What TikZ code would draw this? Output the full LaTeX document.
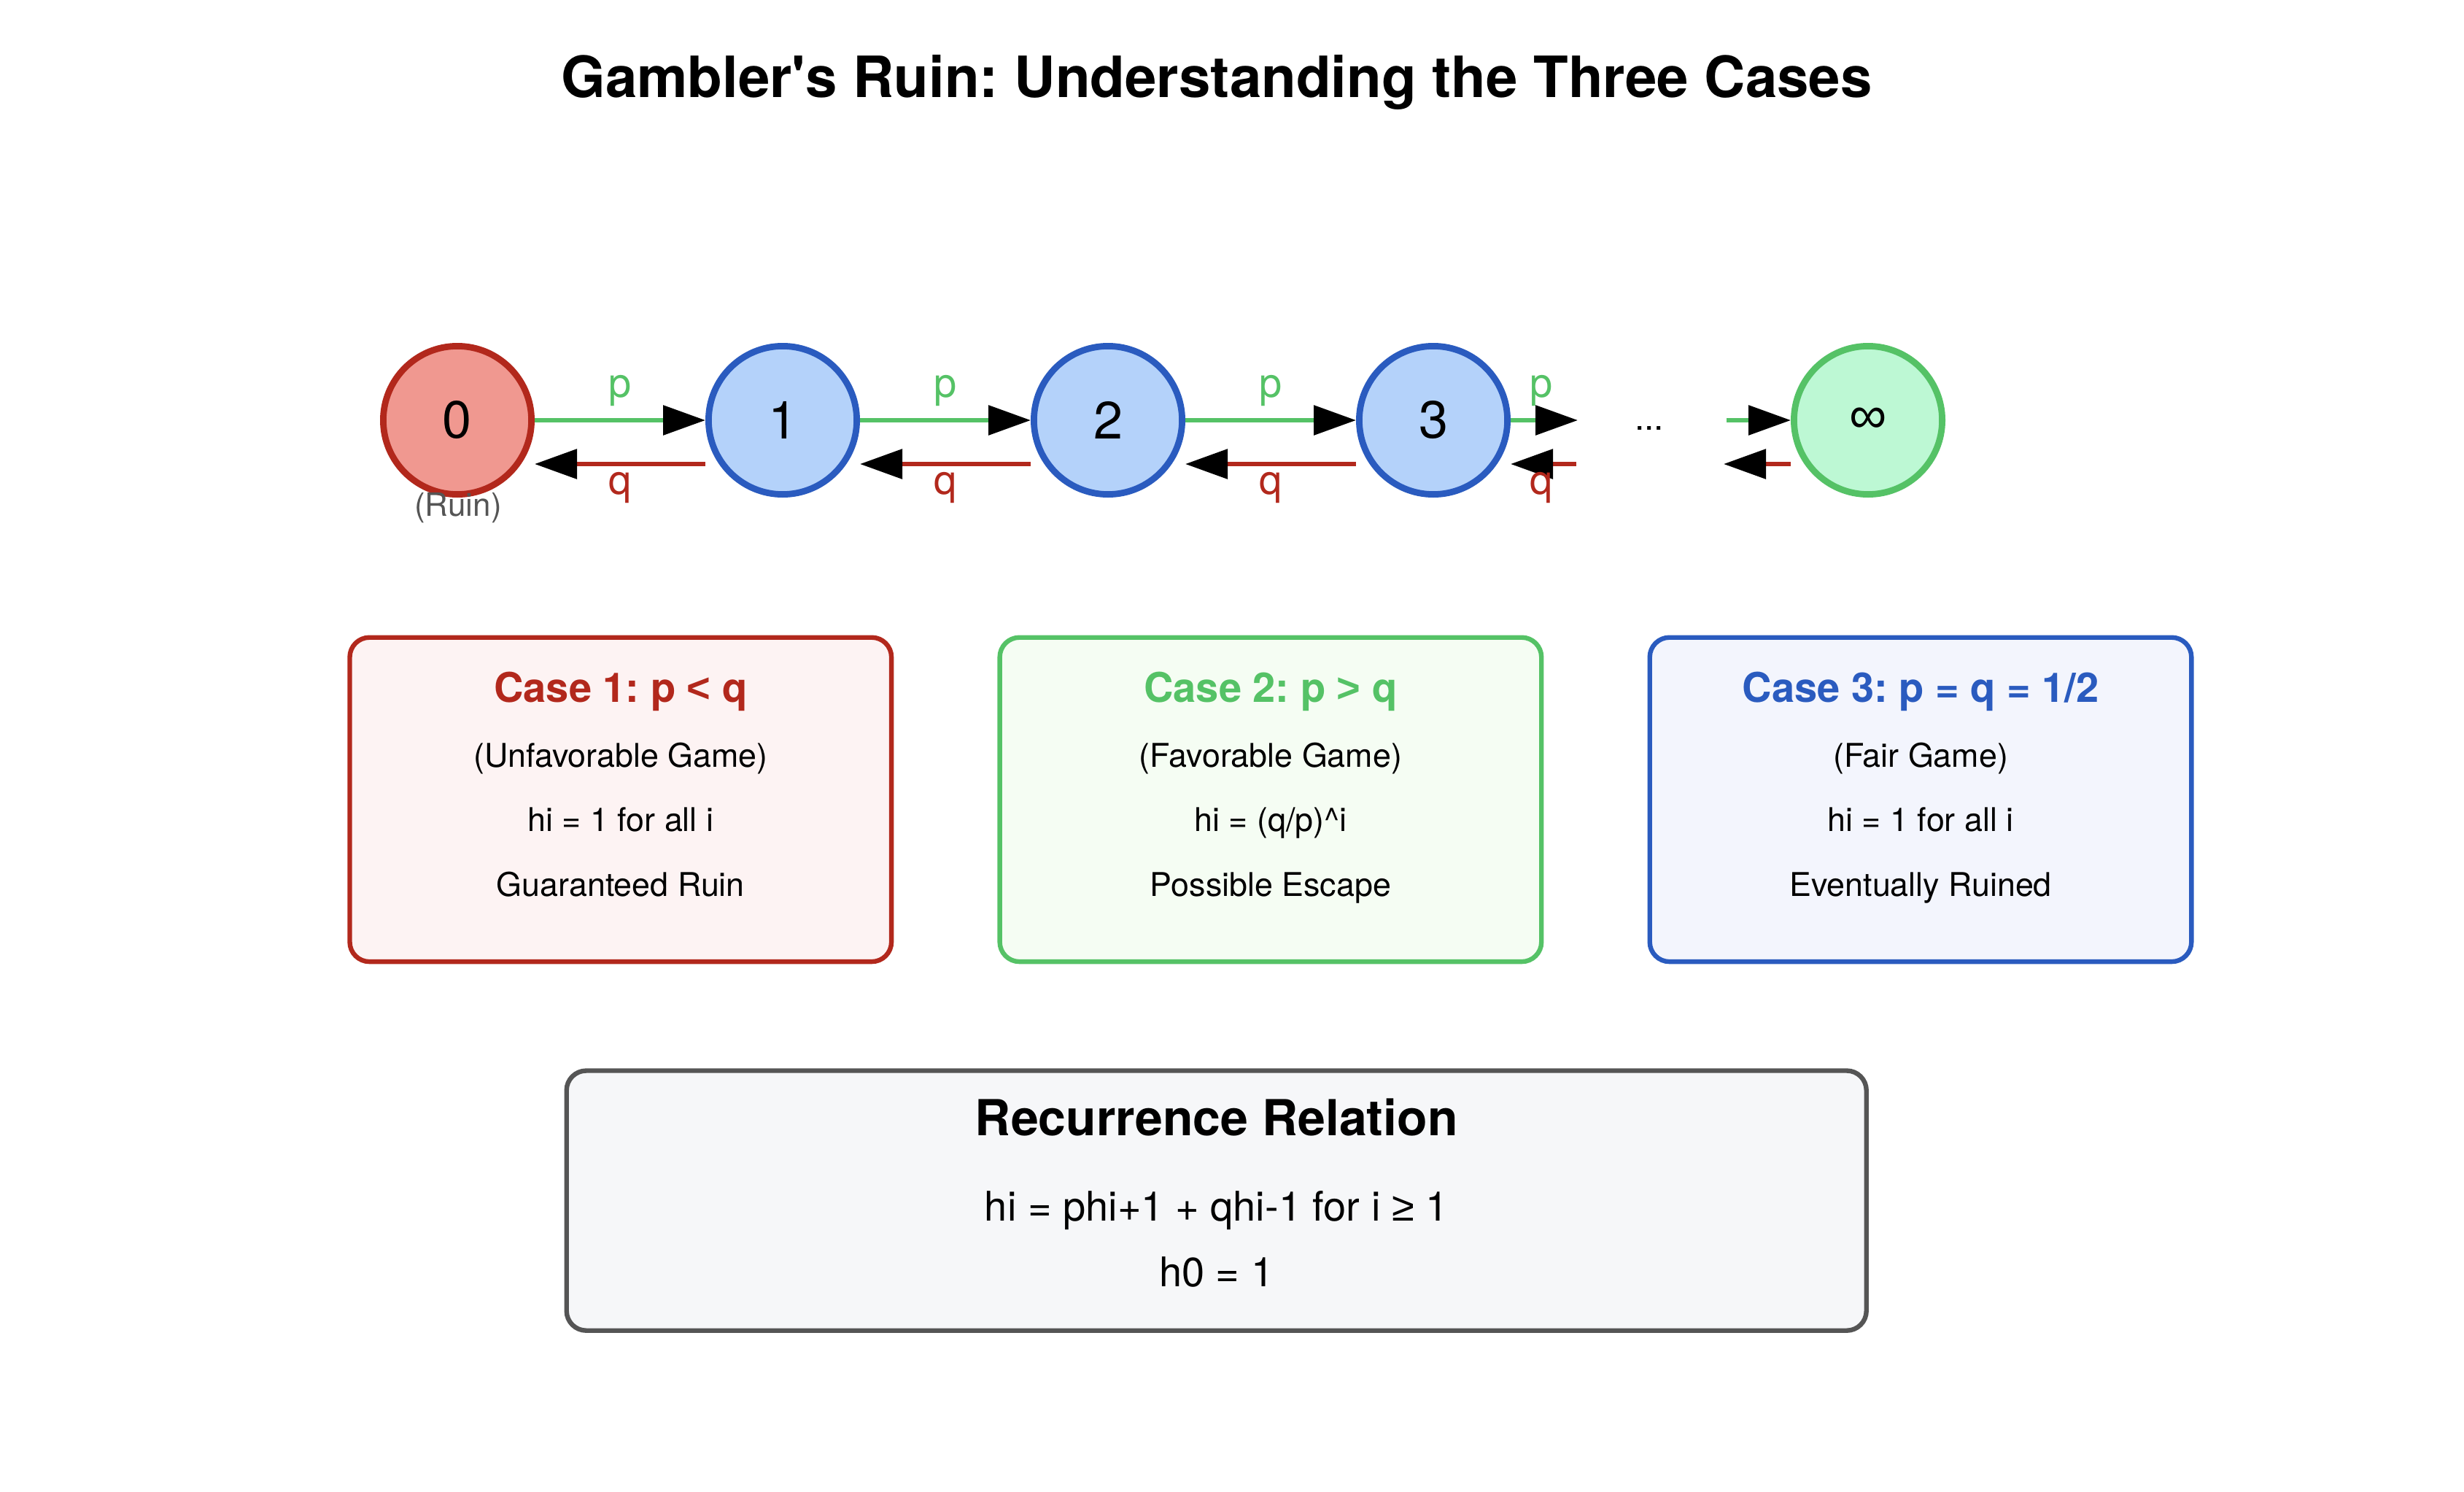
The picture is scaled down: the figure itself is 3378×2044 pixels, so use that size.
\documentclass[tikz,border=0pt]{standalone}
\usepackage{fontspec}
\setmainfont{TeX Gyre Heros}[Ligatures=TeXOff]
\newfontfamily\symfont{Liberation Sans}[Ligatures=TeXOff]
\usetikzlibrary{arrows.meta}
\definecolor{rcol}{RGB}{178,40,28}
\definecolor{rfill}{RGB}{240,152,144}
\definecolor{bcol}{RGB}{42,91,191}
\definecolor{bfill}{RGB}{180,210,250}
\definecolor{gcol}{RGB}{85,194,102}
\definecolor{gfill}{RGB}{189,248,212}
\definecolor{rbox}{RGB}{253,243,243}
\definecolor{gbox}{RGB}{245,253,243}
\definecolor{bbox}{RGB}{243,245,253}
\definecolor{kbox}{RGB}{246,247,249}
\definecolor{kcol}{RGB}{85,85,85}
\begin{document}
\frenchspacing
\begin{tikzpicture}[x=0.25pt,y=-0.25pt,
  state/.style={circle, line width=2.2pt, minimum size=50.8pt, inner sep=0pt,
    font=\fontsize{18}{20}\selectfont},
  tip/.style={-{Triangle[length=14.5pt,width=10pt,color=black]}},
  pedge/.style={tip, draw=gcol, line width=1.5pt},
  qedge/.style={tip, draw=rcol, line width=1.5pt},
  plab/.style={anchor=base, text=gcol, font=\fontsize{14}{16}\selectfont},
  qlab/.style={anchor=base, text=rcol, font=\fontsize{14}{16}\selectfont},
  casebox/.style={rectangle, rounded corners=6.75pt, line width=1.6pt,
    minimum width=185.65pt, minimum height=111.1pt, inner sep=0pt},
  casetitle/.style={anchor=base, font=\bfseries\fontsize{14}{16}\selectfont},
  caseline/.style={anchor=base, font=\fontsize{11.2}{13}\selectfont},
]
\useasboundingbox (0,0) rectangle (3378,2044);
\fill[white] (0,0) rectangle (3378,2044);

% title
\node[anchor=base, font=\bfseries\fontsize{19.5}{22}\selectfont] (title) at (1668,134)
  {Gambler's Ruin: Understanding the Three Cases};

% states
\node[state, draw=rcol, fill=rfill] (n0) at (627,576) {0};
\node[state, draw=bcol, fill=bfill] (n1) at (1073,576) {1};
\node[state, draw=bcol, fill=bfill] (n2) at (1519,576) {2};
\node[state, draw=bcol, fill=bfill] (n3) at (1965,576) {3};
\node[state, draw=gcol, fill=gfill] (ninf) at (2561,576) {{\symfont ∞}};

\node[anchor=base, text=kcol, font=\fontsize{11}{13}\selectfont] (ruin) at (628,707) {(Ruin)};
\node[anchor=base, font=\fontsize{12}{14}\selectfont] (dots) at (2261,589) {...};

% coordinates for free ends
\coordinate (o3p) at (2163,576);
\coordinate (o3q) at (2161,636);
\coordinate (iip) at (2367,576);
\coordinate (iiq) at (2363,636);

% forward edges
\draw[pedge] (n0.east) -- (n1.west);
\draw[pedge] (n1.east) -- (n2.west);
\draw[pedge] (n2.east) -- (n3.west);
\draw[pedge] (n3.east) -- (o3p);
\draw[pedge] (iip) -- (ninf.west);
% backward edges
\draw[qedge] ([yshift=-15pt]n1.west) -- ([yshift=-15pt]n0.east);
\draw[qedge] ([yshift=-15pt]n2.west) -- ([yshift=-15pt]n1.east);
\draw[qedge] ([yshift=-15pt]n3.west) -- ([yshift=-15pt]n2.east);
\draw[qedge] (o3q) -- ([yshift=-15pt]n3.east);
\draw[qedge] ([yshift=-15pt]ninf.west) -- (iiq);

% labels
\node[plab] (p1) at (850,544) {p};
\node[plab] (p2) at (1296,544) {p};
\node[plab] (p3) at (1742,544) {p};
\node[plab] (p4) at (2113,544) {p};
\node[qlab] (q1) at (850,677) {q};
\node[qlab] (q2) at (1296,677) {q};
\node[qlab] (q3) at (1742,677) {q};
\node[qlab] (q4) at (2113,677) {q};

% case boxes
\node[casebox, draw=rcol, fill=rbox] (box1) at (850.8,1095.9) {};
\node[casetitle, text=rcol] (t1) at (850.8,962) {Case 1: p {\symfont\bfseries <} q};
\node[caseline] (a1) at (850.8,1051) {(Unfavorable Game)};
\node[caseline] (b1) at (850.8,1139) {hi = 1 for all i};
\node[caseline] (c1) at (850.8,1228) {Guaranteed Ruin};

\node[casebox, draw=gcol, fill=gbox] (box2) at (1741.9,1095.9) {};
\node[casetitle, text=gcol] (t2) at (1741.9,962) {Case 2: p {\symfont\bfseries >} q};
\node[caseline] (a2) at (1741.9,1051) {(Favorable Game)};
\node[caseline] (b2) at (1741.9,1139) {hi = (q/p)\^{}i};
\node[caseline] (c2) at (1741.9,1228) {Possible Escape};

\node[casebox, draw=bcol, fill=bbox] (box3) at (2633,1095.9) {};
\node[casetitle, text=bcol] (t3) at (2633,962) {Case 3: p = q = 1/2};
\node[caseline] (a3) at (2633,1051) {(Fair Game)};
\node[caseline] (b3) at (2633,1139) {hi = 1 for all i};
\node[caseline] (c3) at (2633,1228) {Eventually Ruined};

% recurrence box
\node[rectangle, rounded corners=6.75pt, line width=1.6pt, draw=kcol, fill=kbox,
  minimum width=445.5pt, minimum height=89.05pt, inner sep=0pt] (rbx) at (1667.7,1645.6) {};
\node[anchor=base, font=\bfseries\fontsize{17}{19}\selectfont] (rt) at (1667.7,1556) {Recurrence Relation};
\node[anchor=base, font=\fontsize{14}{16}\selectfont] (r1) at (1667.7,1673) {hi = phi+1 + qhi-1 for i {\symfont ≥} 1};
\node[anchor=base, font=\fontsize{14}{16}\selectfont] (r2) at (1667.7,1763) {h0 = 1};
\end{tikzpicture}
\end{document}
